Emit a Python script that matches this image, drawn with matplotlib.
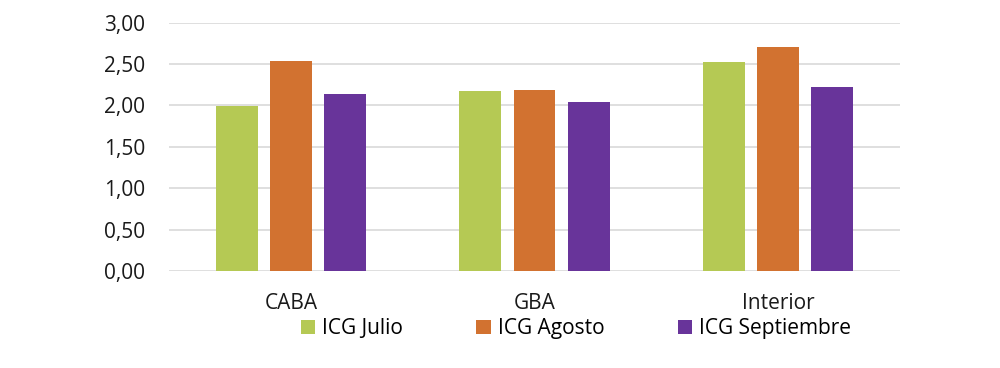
import matplotlib.pyplot as plt
import numpy as np

# Data
regions = ["CABA", "GBA", "Interior"]
series_names = ["ICG Julio", "ICG Agosto", "ICG Septiembre"]
icg_julio = [1.99, 2.17, 2.53]
icg_agosto = [2.54, 2.19, 2.71]
icg_septiembre = [2.14, 2.04, 2.22]
colors = ["#B5C954", "#D27230", "#68349A"]

plt.rcParams['font.family'] = ['Open Sans', 'DejaVu Sans']

fig = plt.figure(figsize=(10, 3.68), dpi=100)
ax = fig.add_axes([0.169, 0.264, 0.731, 0.674])

x = np.arange(len(regions))
width = 0.172
step = 0.222
for i, (vals, name) in enumerate(zip([icg_julio, icg_agosto, icg_septiembre], series_names)):
    ax.bar(x + (i - 1) * step, vals, width, color=colors[i], label=name, zorder=3)

ax.set_xlim(-0.5, 2.5)
ax.set_ylim(0, 3)
ax.set_yticks(np.arange(0, 3.01, 0.5))
ax.set_yticklabels([f"{v:.2f}".replace(".", ",") for v in np.arange(0, 3.01, 0.5)], fontsize=15)
ax.set_xticks(x)
ax.set_xticklabels(regions, fontsize=15)
ax.tick_params(axis='both', length=0, colors='#1a1a1a')
ax.tick_params(axis='y', pad=17)
ax.tick_params(axis='x', pad=16)
ax.grid(axis='y', color='#D9D9D9', linewidth=1.2, zorder=0)
for s in ax.spines.values():
    s.set_visible(False)

fig.legend(loc='center', bbox_to_anchor=(0.576, 0.107), ncol=3, frameon=False,
           fontsize=15, handlelength=0.7, handleheight=0.7, handletextpad=0.35,
           columnspacing=3.5)

fig.savefig("out.png", dpi=100, facecolor="white")
